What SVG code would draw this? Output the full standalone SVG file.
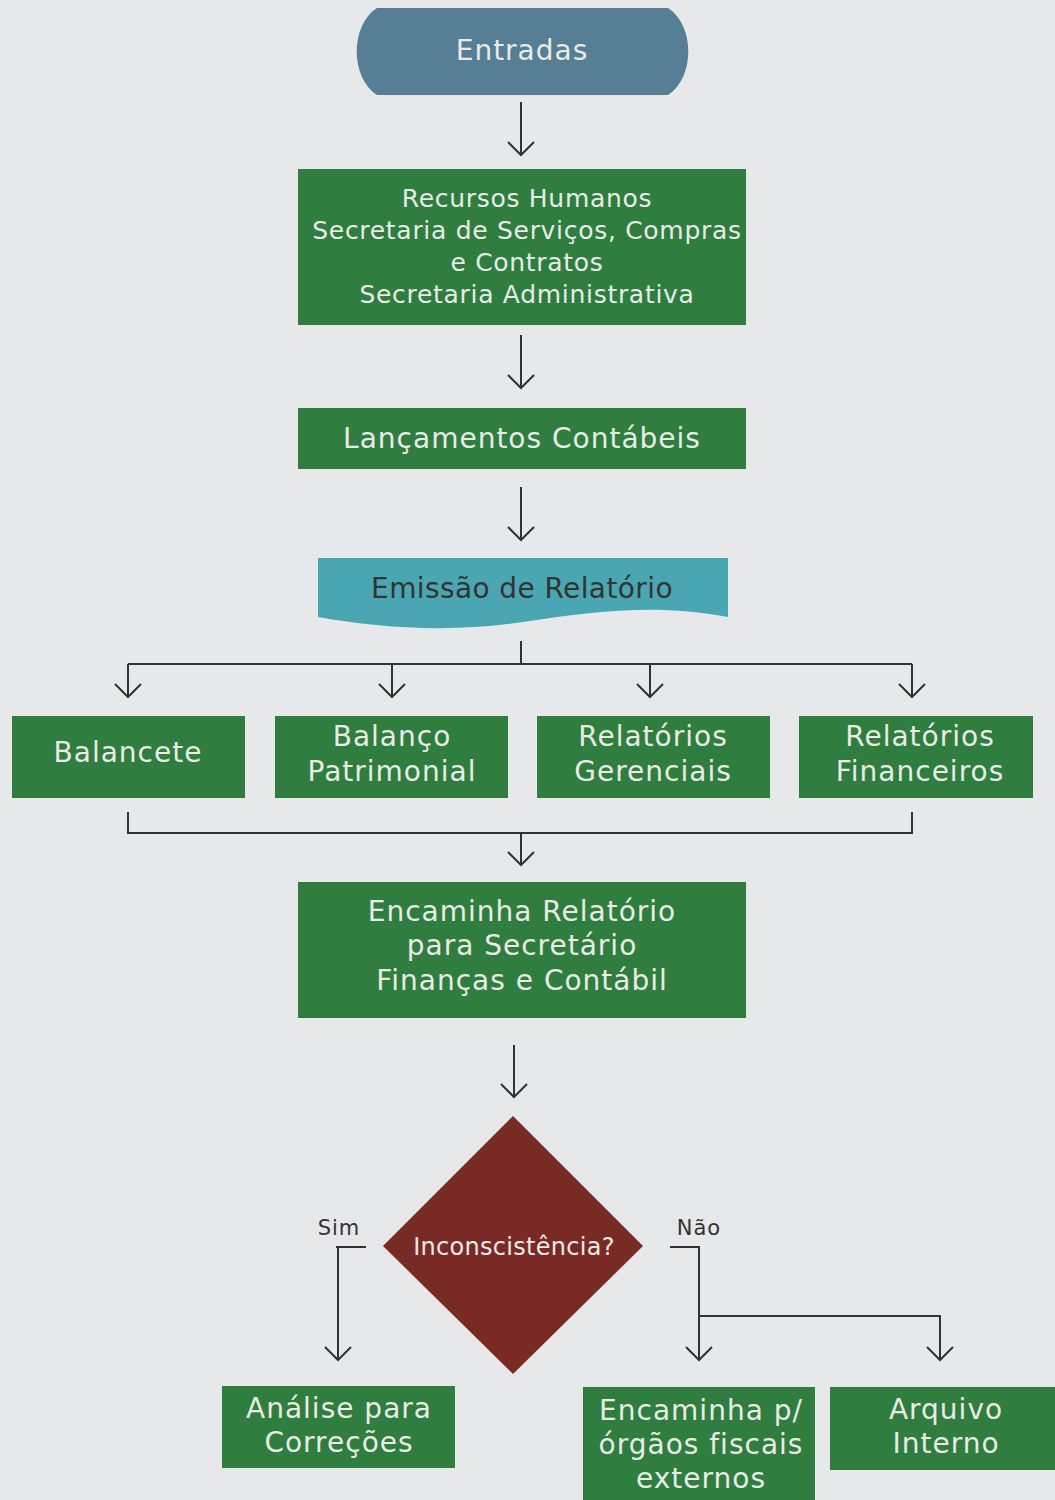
<svg xmlns="http://www.w3.org/2000/svg" width="1055" height="1500" viewBox="0 0 1055 1500">
<defs>
<style>
.bg{fill:#e7e8ea}
.box{fill:#2f7d3f}
.wt{font-family:"DejaVu Sans",sans-serif;font-size:28px;letter-spacing:1px;fill:#e9ebe6;text-anchor:middle}
.sm{font-size:25px;letter-spacing:0.7px}
.dt{font-size:24px;letter-spacing:0.3px}
.dk{font-family:"DejaVu Sans",sans-serif;fill:#333;text-anchor:middle}
.lb{font-size:21px;letter-spacing:1px}
.ln{fill:none;stroke:#333;stroke-width:2}
.ah{fill:none;stroke:#333;stroke-width:2}
</style>
</defs>
<rect class="bg" x="0" y="0" width="1055" height="1500"/>

<g id="connectors">
<path class="ln" d="M521,102 V155"/><path class="ah" d="M508,142 L521,155 L534,142"/>
<path class="ln" d="M521,335 V388"/><path class="ah" d="M508,375 L521,388 L534,375"/>
<path class="ln" d="M521,487 V540"/><path class="ah" d="M508,527 L521,540 L534,527"/>
<path class="ln" d="M521,641 V664 M128,664 H912 M128,664 V697 M392,664 V697 M650,664 V697 M912,664 V697"/>
<path class="ah" d="M115,684 L128,697 L141,684 M379,684 L392,697 L405,684 M637,684 L650,697 L663,684 M899,684 L912,697 L925,684"/>
<path class="ln" d="M128,812 V833 H912 V812 M521,833 V865"/>
<path class="ah" d="M508,852 L521,865 L534,852"/>
<path class="ln" d="M514,1045 V1097"/><path class="ah" d="M501,1084 L514,1097 L527,1084"/>
<path class="ln" d="M366,1247 H336 M338,1247 V1360"/><path class="ah" d="M325,1347 L338,1360 L351,1347"/>
<path class="ln" d="M670,1247 H699 V1360 M699,1316 H940 V1360"/>
<path class="ah" d="M686,1347 L699,1360 L712,1347 M927,1347 L940,1360 L953,1347"/>
<text class="dk lb" x="339" y="1235">Sim</text>
<text class="dk lb" x="699" y="1235">Não</text>
</g>

<g id="entradas">
<path d="M377,8 H668 C695,25 695,78 668,95 H377 C350,78 350,25 377,8 Z" fill="#567e94"/>
<text class="wt" x="522" y="60">Entradas</text>
</g>

<g id="entrada-setores">
<rect class="box" x="298" y="169" width="448" height="156"/>
<text class="wt sm" x="527" y="207">Recursos Humanos</text>
<text class="wt sm" x="527" y="239">Secretaria de Serviços, Compras</text>
<text class="wt sm" x="527" y="271">e Contratos</text>
<text class="wt sm" x="527" y="303">Secretaria Administrativa</text>
</g>

<g id="lancamentos">
<rect class="box" x="298" y="408" width="448" height="61"/>
<text class="wt" x="522" y="448">Lançamentos Contábeis</text>
</g>

<g id="emissao">
<path d="M318,558 H728 V617 C660,604 600,610 523,622 C450,633 380,628 318,617 Z" fill="#4aa6b2"/>
<text class="dk" x="522" y="598" style="font-size:28px;letter-spacing:0.4px">Emissão de Relatório</text>
</g>

<g id="balancete">
<rect class="box" x="12" y="716" width="233" height="82"/>
<text class="wt" x="128" y="762">Balancete</text>
</g>
<g id="balanco">
<rect class="box" x="275" y="716" width="233" height="82"/>
<text class="wt" x="392" y="746">Balanço</text>
<text class="wt" x="392" y="781">Patrimonial</text>
</g>
<g id="gerenciais">
<rect class="box" x="537" y="716" width="233" height="82"/>
<text class="wt" x="653" y="746">Relatórios</text>
<text class="wt" x="653" y="781">Gerenciais</text>
</g>
<g id="financeiros">
<rect class="box" x="799" y="716" width="234" height="82"/>
<text class="wt" x="920" y="746">Relatórios</text>
<text class="wt" x="920" y="781">Financeiros</text>
</g>

<g id="encaminha-secretario">
<rect class="box" x="298" y="882" width="448" height="136"/>
<text class="wt" x="522" y="921">Encaminha Relatório</text>
<text class="wt" x="522" y="955">para Secretário</text>
<text class="wt" x="522" y="990">Finanças e Contábil</text>
</g>

<g id="decisao">
<path d="M513,1116 L643,1246 L513,1374 L383,1246 Z" fill="#7a2a25"/>
<text class="wt dt" x="514" y="1255">Inconscistência?</text>
</g>

<g id="analise">
<rect class="box" x="222" y="1386" width="233" height="82"/>
<text class="wt" x="339" y="1418">Análise para</text>
<text class="wt" x="339" y="1452">Correções</text>
</g>
<g id="orgaos">
<rect class="box" x="583" y="1387" width="232" height="113"/>
<text class="wt" x="701" y="1420">Encaminha p/</text>
<text class="wt" x="701" y="1454">órgãos fiscais</text>
<text class="wt" x="701" y="1488">externos</text>
</g>
<g id="arquivo">
<rect class="box" x="830" y="1387" width="225" height="83"/>
<text class="wt" x="946" y="1419">Arquivo</text>
<text class="wt" x="946" y="1453">Interno</text>
</g>
</svg>
